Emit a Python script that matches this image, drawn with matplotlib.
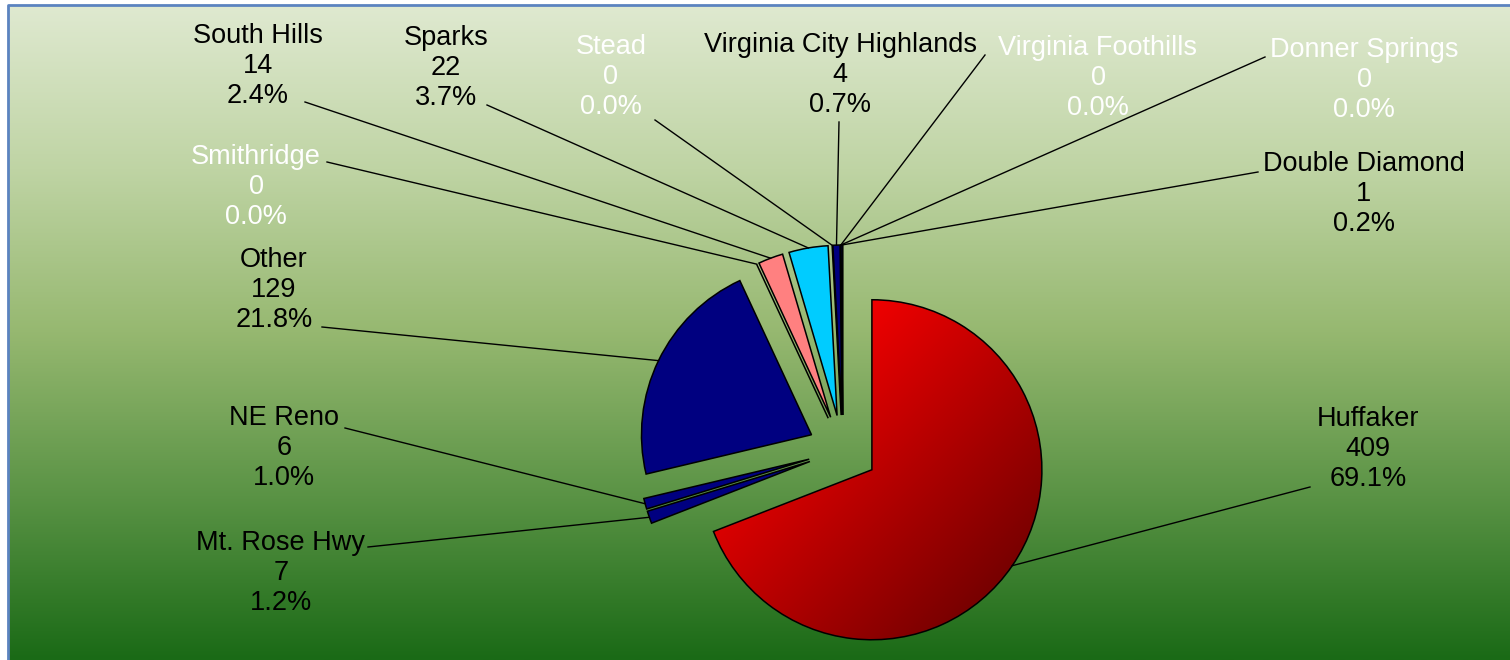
import numpy as np
import matplotlib.pyplot as plt
from matplotlib.colors import LinearSegmentedColormap

plt.rcParams['font.family'] = ['Liberation Sans', 'DejaVu Sans']

# data (clockwise from 12 o'clock)
areas = ['Huffaker', 'Mt. Rose Hwy', 'NE Reno', 'Other', 'Smithridge', 'South Hills',
         'Sparks', 'Stead', 'Virginia City Highlands', 'Virginia Foothills',
         'Donner Springs', 'Double Diamond']
counts = [409, 7, 6, 129, 0, 14, 22, 0, 4, 0, 0, 1]
slice_colors = ['#d00000', '#000080', '#000080', '#000080', '#000080', '#ff8080',
                '#00ccff', '#000080', '#000080', '#000080', '#000080', '#000080']

# label layout in pixel coords (y down): text centre, leader start
label_xy = [(1368, 449), (281, 573), (284, 448), (274, 290), (256, 187), (258, 66),
            (446, 68), (611, 77), (840, 75), (1098, 78), (1364, 80), (1364, 194)]
lead_xy = [(1310, 487), (368, 547), (345, 428), (322, 327), (327, 162), (305, 102),
           (487, 105), (655, 120), (839, 122), (985, 55), (1265, 57), (1258, 172)]
label_white = [c == 0 for c in counts]

W, H = 1510, 660
fig = plt.figure(figsize=(15.1, 6.6), dpi=100)
ax = fig.add_axes([0, 0, 1, 1])

# background gradient
bg = LinearSegmentedColormap.from_list('bg', [(0, '#1a6a16'), (0.25, '#5a9345'),
                                              (0.5, '#96b870'), (0.75, '#bfd4a4'),
                                              (1, '#dfe9d0')])
grad = np.linspace(0, 1, 256).reshape(-1, 1)
ax.imshow(grad, cmap=bg, extent=[8, W, 0, H - 5], origin='lower', aspect='auto', zorder=0)
ax.plot([8, 8, W], [0, H - 5, H - 5], color='#5b83c0', lw=2, zorder=1)

cx, cy, R = 843, H - 450, 170
wedges, _ = ax.pie(counts, colors=slice_colors, startangle=90, counterclock=False,
                   center=(cx, cy), radius=R, explode=[35] * len(counts),
                   wedgeprops=dict(edgecolor='black', linewidth=1.1), frame=True)
ax.set_xlim(0, W)
ax.set_ylim(0, H)
ax.set_aspect('equal')
ax.axis('off')

# red gradient on Huffaker
huff = wedges[0]
hx, hy = huff.center
red = LinearSegmentedColormap.from_list('red', ['#780000', '#f00000'])
gx, gy = np.meshgrid(np.linspace(0, 1, 200), np.linspace(0, 1, 200))
im = ax.imshow((gy + (1 - gx)) / 2, cmap=red, origin='lower', aspect='auto',
               extent=[hx - R, hx + R, hy - R, hy + R], zorder=2)
im.set_clim(0.15, 0.75)
im.set_clip_path(huff)
huff.set_facecolor('none')
huff.set_zorder(3)

total = sum(counts)
for w, name, n, (tx, ty), (lx, ly), white in zip(wedges, areas, counts, label_xy,
                                                 lead_xy, label_white):
    mid = np.deg2rad((w.theta1 + w.theta2) / 2)
    ax_, ay_ = w.center[0] + w.r * np.cos(mid), w.center[1] + w.r * np.sin(mid)
    ax.plot([lx, ax_], [H - ly, ay_], color='black', lw=1, zorder=4)
    ax.text(tx, H - ty, f'{name}\n{n}\n{100 * n / total:.1f}%', ha='center', va='center',
            fontsize=19.5, linespacing=1.22, color='white' if white else 'black', zorder=5)

fig.savefig('out.png', dpi=100)
